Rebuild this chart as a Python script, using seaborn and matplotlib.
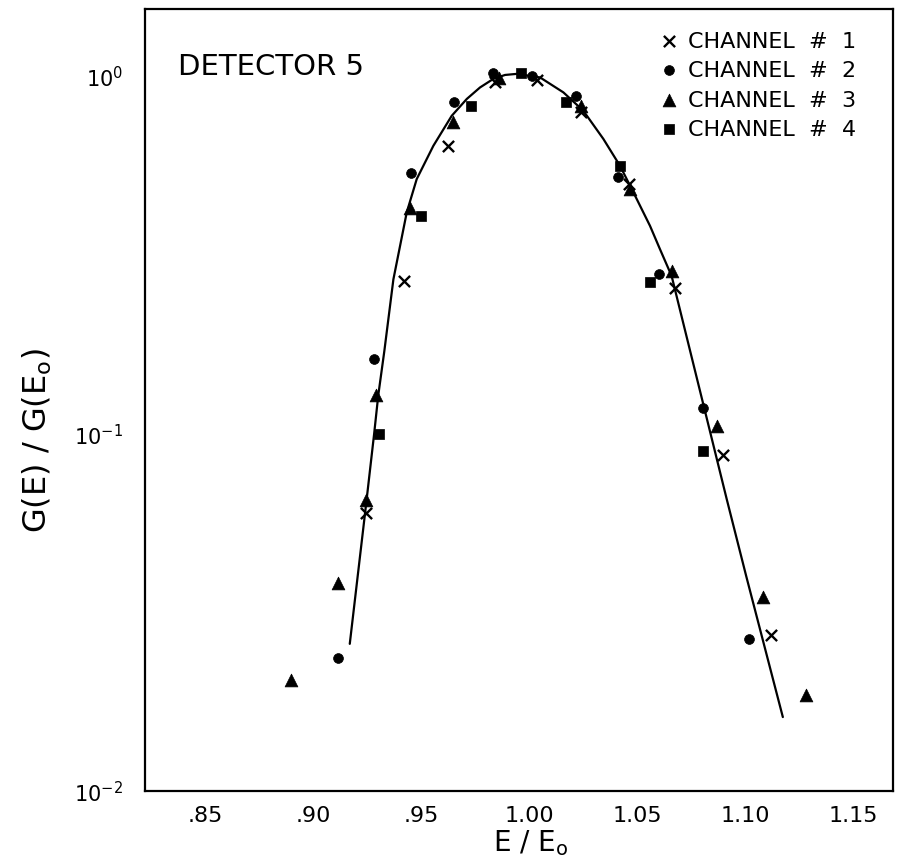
import matplotlib
matplotlib.use("Agg")
import matplotlib.pyplot as plt
import seaborn as sns
import pandas as pd
from matplotlib.ticker import FixedLocator, FixedFormatter, NullLocator

# ---------------- data ----------------
ch1_x = [0.9244, 0.9423, 0.9626, 0.9843, 1.0039, 1.0240, 1.0464, 1.0676, 1.0900, 1.1119]
ch1_y = [0.060, 0.267, 0.638, 0.960, 0.977, 0.795, 0.499, 0.256, 0.087, 0.0273]

ch2_x = [0.9114, 0.9284, 0.9454, 0.9654, 0.9835, 1.0012, 1.0216, 1.0413, 1.0603, 1.0807, 1.1018]
ch2_y = [0.0236, 0.162, 0.534, 0.847, 1.02, 1.00, 0.878, 0.523, 0.279, 0.118, 0.0267]

ch3_x = [0.8900, 0.9114, 0.9245, 0.9290, 0.9449, 0.9647, 0.9860, 1.0241, 1.0468, 1.0660, 1.0869, 1.1082, 1.1282]
ch3_y = [0.0204, 0.0382, 0.065, 0.128, 0.427, 0.745, 0.99, 0.826, 0.483, 0.285, 0.105, 0.0348, 0.0185]

ch4_x = [0.9306, 0.9499, 0.9730, 0.9962, 1.0171, 1.0421, 1.0560, 1.0804]
ch4_y = [0.100, 0.407, 0.823, 1.02, 0.848, 0.559, 0.265, 0.0895]

curve_x = [0.9170, 0.9244, 0.9283, 0.9302, 0.9330, 0.9372, 0.9434, 0.9480, 0.9557,
           0.9642, 0.9712, 0.9773, 0.9835, 0.9889, 0.9943, 1.0051, 1.0159, 1.0251,
           1.0344, 1.0421, 1.0483, 1.0560, 1.0606, 1.0660, 1.0915, 1.1005, 1.1175]
curve_y = [0.0258, 0.0622, 0.100, 0.128, 0.170, 0.270, 0.416, 0.515, 0.638,
           0.774, 0.863, 0.929, 0.982, 1.007, 1.014, 0.991, 0.900, 0.800,
           0.667, 0.561, 0.473, 0.381, 0.328, 0.276, 0.0656, 0.040, 0.0161]

channel_labels = ["CHANNEL  #  1", "CHANNEL  #  2", "CHANNEL  #  3", "CHANNEL  #  4"]
xtick_values = [0.85, 0.90, 0.95, 1.00, 1.05, 1.10, 1.15]
xtick_labels = [".85", ".90", ".95", "1.00", "1.05", "1.10", "1.15"]
ytick_values = [0.01, 0.1, 1.0]
ytick_labels = [r"$10^{-2}$", r"$10^{-1}$", r"$10^{0}$"]

# ---------------- style ----------------
sns.set_style("white")
plt.rcParams["font.family"] = ["DejaVu Sans"]
plt.rcParams["mathtext.fontset"] = "dejavusans"
plt.rcParams["text.color"] = "black"
plt.rcParams["axes.labelcolor"] = "black"

W, H = 899, 862
fig = plt.figure(figsize=(W / 100, H / 100), dpi=100)
left, right, top, bottom = 145, 893, 10, 792
ax = fig.add_axes([left / W, 1 - bottom / H, (right - left) / W, (bottom - top) / H])

curve_df = pd.DataFrame({"x": curve_x, "y": curve_y})
sns.lineplot(data=curve_df, x="x", y="y", ax=ax, color="black", linewidth=1.6,
             sort=False, estimator=None)

sets = [
    (ch1_x, ch1_y, "x", 65, channel_labels[0]),
    (ch2_x, ch2_y, "o", 50, channel_labels[1]),
    (ch3_x, ch3_y, "^", 85, channel_labels[2]),
    (ch4_x, ch4_y, "s", 55, channel_labels[3]),
]
for xs, ys, mk, sz, lab in sets:
    d = pd.DataFrame({"x": xs, "y": ys})
    if mk == "x":
        sns.scatterplot(data=d, x="x", y="y", ax=ax, marker=mk, s=sz, color="black",
                        linewidth=1.7, label=lab, zorder=3)
    else:
        sns.scatterplot(data=d, x="x", y="y", ax=ax, marker=mk, s=sz, color="black",
                        edgecolor="black", linewidth=0.5, label=lab, zorder=3)

ax.set_yscale("log")
ax.set_xlim(0.8222, 1.1685)
ax.set_ylim(0.01, 1.54)

ax.xaxis.set_major_locator(FixedLocator(xtick_values))
ax.xaxis.set_major_formatter(FixedFormatter(xtick_labels))
ax.xaxis.set_minor_locator(NullLocator())
ax.yaxis.set_major_locator(FixedLocator(ytick_values))
ax.yaxis.set_major_formatter(FixedFormatter(ytick_labels))
ax.yaxis.set_minor_locator(NullLocator())

ax.tick_params(axis="x", direction="in", length=11, width=1.2, labelsize=16, pad=10,
               colors="black")
ax.tick_params(axis="y", direction="in", length=14, width=1.2, labelsize=15, pad=16,
               colors="black")
for sp in ax.spines.values():
    sp.set_visible(True)
    sp.set_color("black")
    sp.set_linewidth(1.6)

ax.set_xlabel(r"E / E$_{\mathrm{o}}$", fontsize=20, color="black")
ax.xaxis.set_label_coords(0.515, -0.046)
ax.set_ylabel(r"G(E) / G(E$_{\mathrm{o}}$)", fontsize=23, color="black")
ax.yaxis.set_label_coords(-0.122, 1 - (440 - top) / (bottom - top))

ax.text((178 - left) / (right - left), 1 - (67 - top) / (bottom - top), "DETECTOR 5",
        transform=ax.transAxes, fontsize=21, va="center", ha="left", color="black")

leg = ax.legend(loc="upper left", bbox_to_anchor=((658 - left) / (right - left), 0.972),
                frameon=False, fontsize=16, handletextpad=0.35, handlelength=1.0,
                labelspacing=0.42, borderpad=0, borderaxespad=0)
for t in leg.get_texts():
    t.set_color("black")

fig.savefig("out.png", dpi=100)
